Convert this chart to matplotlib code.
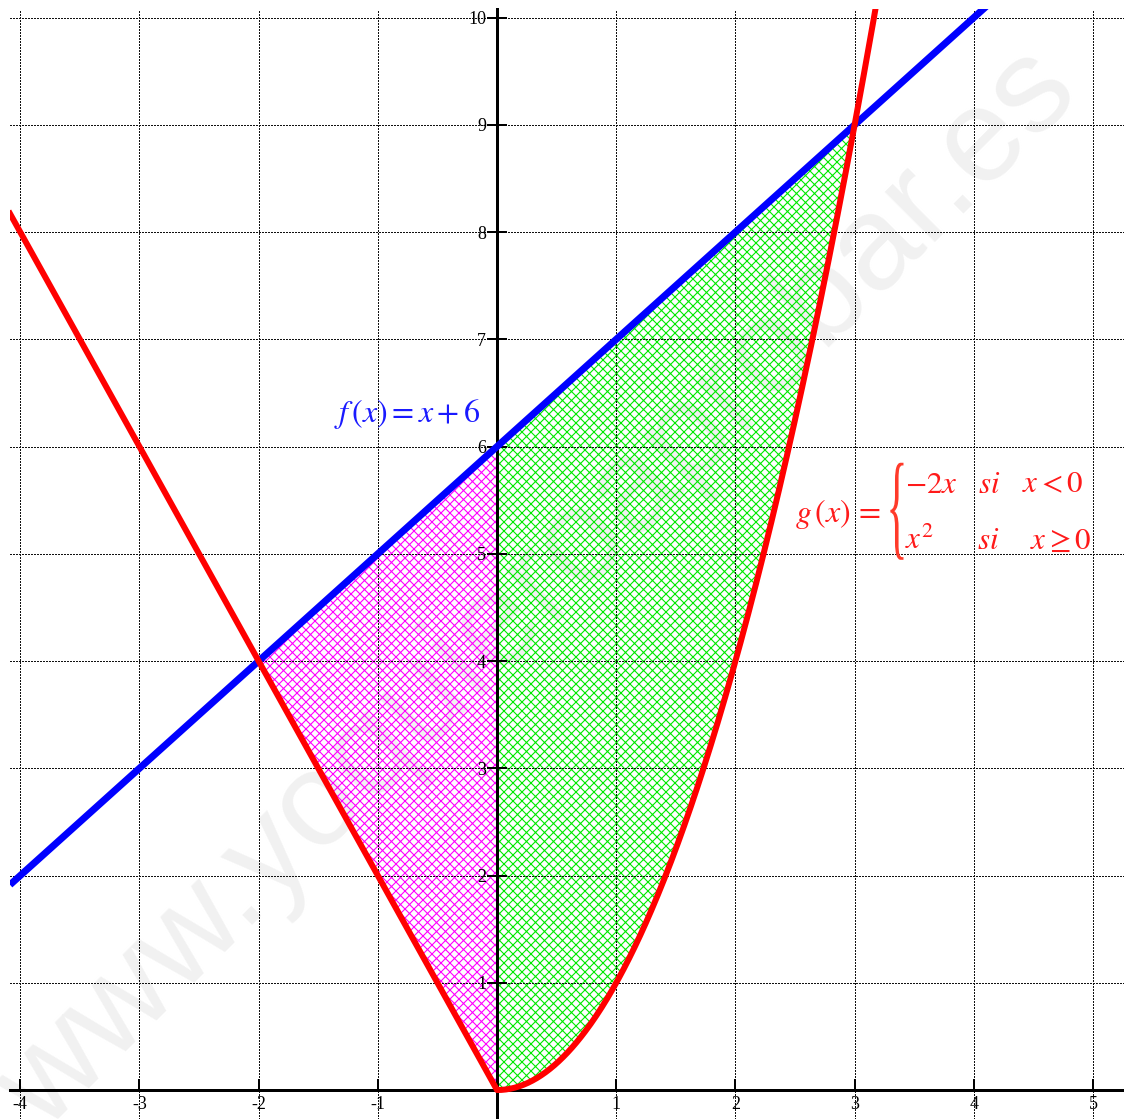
import numpy as np
import matplotlib
matplotlib.use("Agg")
import matplotlib.pyplot as plt
from matplotlib.textpath import TextPath
from matplotlib.patches import PathPatch
from matplotlib.font_manager import FontProperties
from matplotlib.transforms import Affine2D

DPI = 108
W_PX, H_PX = 1124, 1119

def pt(px):
    # pixel size -> points at this dpi
    return px * 72.0 / DPI

# --- chart values ---
X_TICKS = [-4, -3, -2, -1, 1, 2, 3, 4, 5]
Y_TICKS = [1, 2, 3, 4, 5, 6, 7, 8, 9, 10]
X_RANGE = [-4.086, 5.26]
Y_RANGE = [-0.27, 10.08]

F_COEF = [1, 6]          # f(x) = x + 6
G_NEG_COEF = -2          # g(x) = -2x  for x < 0
G_POS_POWER = 2          # g(x) = x^2  for x >= 0
PINK_BOUNDS = [-2, 0]
GREEN_BOUNDS = [0, 3]

F_LABEL = r"$f\,(x)=x+6$"
G_LABEL = r"$g\,(x)\,=$"
G_ROW1 = [r"$-2x$", r"$si$", r"$x<0$"]
G_ROW2 = [r"$x^2$", r"$si$", r"$x\geq 0$"]
WATERMARK = "www.yoquieroaprobar.es"


def f(x):
    return F_COEF[0] * x + F_COEF[1]


def g(x):
    return np.where(x < 0, G_NEG_COEF * x, x ** G_POS_POWER)


plt.rcParams["mathtext.fontset"] = "stix"
plt.rcParams["axes.unicode_minus"] = False
plt.rcParams["hatch.linewidth"] = pt(1.1)

fig = plt.figure(figsize=(W_PX / DPI, H_PX / DPI), dpi=DPI, facecolor="white")
ax = fig.add_axes([10 / W_PX, 0, 1114 / W_PX, 1110 / H_PX])
ax.set_xlim(*X_RANGE)
ax.set_ylim(*Y_RANGE)

# axes through the origin
for side in ["top", "right"]:
    ax.spines[side].set_visible(False)
ax.spines["left"].set_position(("data", 0))
ax.spines["bottom"].set_position(("data", 0))
for side in ["left", "bottom"]:
    ax.spines[side].set_linewidth(pt(3))
    ax.spines[side].set_zorder(4)

ax.set_xticks(X_TICKS)
ax.set_yticks(Y_TICKS)
ax.set_xticklabels([str(t) for t in X_TICKS])
ax.set_yticklabels([str(t) for t in Y_TICKS])
ax.tick_params(axis="x", direction="in", length=pt(11), width=pt(2), pad=pt(6))
ax.tick_params(axis="y", direction="inout", length=pt(20), width=pt(2), pad=pt(1))
for lab in ax.get_xticklabels() + ax.get_yticklabels():
    lab.set_fontfamily("Liberation Serif")
    lab.set_fontsize(pt(18))

ax.grid(True, linestyle=(0, (1, 1)), linewidth=pt(1), color="#111111",
        antialiased=False)

# shaded regions
xp = np.linspace(PINK_BOUNDS[0], PINK_BOUNDS[1], 200)
ax.fill_between(xp, g(xp), f(xp), facecolor="none", edgecolor="#ff00ff",
                hatch="xxxx", linewidth=0, zorder=1)
xg = np.linspace(GREEN_BOUNDS[0], GREEN_BOUNDS[1], 300)
ax.fill_between(xg, g(xg), f(xg), facecolor="none", edgecolor="#00e800",
                hatch="xxxx", linewidth=0, zorder=1)

# curves
xf = np.linspace(X_RANGE[0], X_RANGE[1], 50)
ax.plot(xf, f(xf), color="#0000ff", linewidth=pt(7), zorder=5,
        solid_capstyle="butt")
xs = np.sort(np.append(np.linspace(X_RANGE[0], 3.3, 800), 0.0))
ax.plot(xs, g(xs), color="#ff0000", linewidth=pt(6), zorder=6,
        solid_joinstyle="round")

# labels
ax.text(-1.37, 6.23, F_LABEL, color="#1a1aff", fontsize=pt(32),
        ha="left", va="baseline", zorder=7)
ax.text(2.50, 5.30, G_LABEL, color="#ff1a1a", fontsize=pt(32),
        ha="left", va="baseline", zorder=7)
row_x1 = [3.423, 4.035, 4.404]
row_x2 = [3.423, 4.027, 4.47]
for s, x in zip(G_ROW1, row_x1):
    ax.text(x, 5.57, s, color="#ff1a1a", fontsize=pt(31),
            ha="left", va="baseline", zorder=7)
for s, x in zip(G_ROW2, row_x2):
    ax.text(x, 5.047, s, color="#ff1a1a", fontsize=pt(31),
            ha="left", va="baseline", zorder=7)

# tall thin brace
brace = TextPath((0, 0), "{", size=10,
                 prop=FontProperties(family="Liberation Serif"))
ext = brace.get_extents()
bx0, bx1, by0, by1 = 3.30, 3.41, 4.944, 5.849
tr = (Affine2D().translate(-ext.x0, -ext.y0)
      .scale((bx1 - bx0) / ext.width, (by1 - by0) / ext.height)
      .translate(bx0, by0))
ax.add_patch(PathPatch(tr.transform_path(brace), facecolor="#ff3a2a",
                       edgecolor="none", zorder=7))

# faint watermark
ax.text(0.479, 0.473, WATERMARK, transform=fig.transFigure, rotation=45,
        rotation_mode="anchor", ha="center", va="center",
        fontsize=pt(134), family="Liberation Sans", color="#f1f1f1",
        zorder=0.1, clip_on=False)

fig.savefig("out.png", dpi=DPI, facecolor="white")
